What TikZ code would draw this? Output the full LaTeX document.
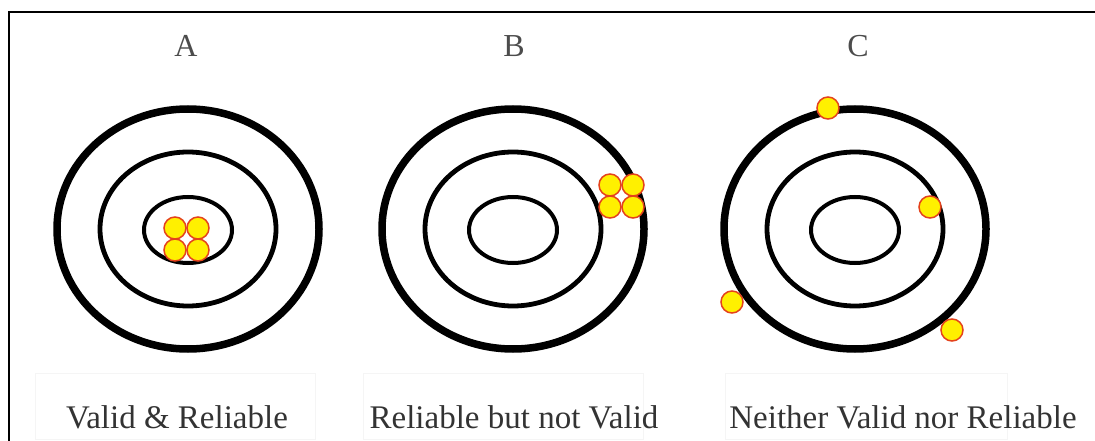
\documentclass[tikz,border=0pt]{standalone}
\usepackage{fontspec}
\setmainfont{Liberation Serif}
\definecolor{shotfill}{HTML}{FFF000}
\definecolor{shotline}{HTML}{E4421C}
\definecolor{captext}{HTML}{333333}
\begin{document}
\begin{tikzpicture}[
    x=1pt, y=-1pt,
    outerring/.style={line width=7.5pt},
    midring/.style={line width=4.8pt},
    innerring/.style={line width=4pt},
    shot/.style={circle, draw=shotline, fill=shotfill, line width=1.5pt, minimum size=22pt, inner sep=0pt},
    tlabel/.style={anchor=base, text=black!70, font=\fontsize{32}{35}\selectfont},
    caption/.style={anchor=base, text=captext, font=\fontsize{33}{36}\selectfont},
    capbox/.style={draw=black!4, line width=0.8pt}
]
\useasboundingbox (0,0) rectangle (1095,441);
% frame
\draw[line width=1.6pt] (9,441) -- (9,12) -- (1095,12);
% faint caption boxes
\draw[capbox] (35,373) rectangle (315,439);
\draw[capbox] (363,373) rectangle (643,439);
\draw[capbox] (725,373) rectangle (1007,439);
% targets
\foreach \cx in {188,513,855} {
  \draw[outerring] (\cx,229) ellipse (131pt and 120pt);
  \draw[midring] (\cx,229) ellipse (88pt and 77pt);
  \draw[innerring] (\cx,230) ellipse (44pt and 33pt);
}
% A: valid and reliable
\node[shot] (a1) at (175,228) {};
\node[shot] (a2) at (198,228) {};
\node[shot] (a3) at (175,250) {};
\node[shot] (a4) at (198,250) {};
% B: reliable, off centre
\node[shot] (b1) at (610,185) {};
\node[shot] (b2) at (633,185) {};
\node[shot] (b3) at (610,207) {};
\node[shot] (b4) at (633,207) {};
% C: scattered
\node[shot] (c1) at (828,108) {};
\node[shot] (c2) at (930,207) {};
\node[shot] (c3) at (732,302) {};
\node[shot] (c4) at (952,330) {};
% letters
\node[tlabel] (labA) at (186,57) {A};
\node[tlabel] (labB) at (514,57) {B};
\node[tlabel] (labC) at (858,57) {C};
% captions
\node[caption] (capA) at (177,428) {Valid \& Reliable};
\node[caption] (capB) at (514,428) {Reliable but not Valid};
\node[caption] (capC) at (903,428) {Neither Valid nor Reliable};
\end{tikzpicture}
\end{document}
